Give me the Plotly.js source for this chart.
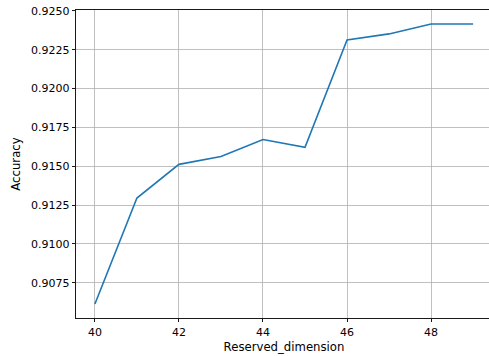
<!DOCTYPE html>
<html>
<head>
<meta charset="utf-8">
<script src="https://cdn.plot.ly/plotly-3.0.1.min.js"></script>
<style>
html,body{margin:0;padding:0;overflow:hidden;background:#fff;width:489px;height:356px;}
#chart{width:495px;height:356px;}
</style>
</head>
<body>
<div id="chart"></div>
<script>
const reservedDimension = [40, 41, 42, 43, 44, 45, 46, 47, 48, 49];
const accuracy = [0.90613, 0.91295, 0.91512, 0.91562, 0.91672, 0.91622, 0.92313, 0.92352, 0.92416, 0.92416];
const xTickVals = [40, 42, 44, 46, 48];
const yTickVals = [0.9075, 0.9100, 0.9125, 0.9150, 0.9175, 0.9200, 0.9225, 0.9250];

const trace = {
  x: reservedDimension,
  y: accuracy,
  type: 'scatter',
  mode: 'lines',
  line: {color: '#1f77b4', width: 1.6},
  hoverinfo: 'skip'
};

const axisCommon = {
  showline: true, linecolor: '#000', linewidth: 0.9, mirror: true,
  ticks: 'outside', ticklen: 3.5, tickwidth: 0.9, tickcolor: '#000',
  showgrid: true, gridcolor: '#b0b0b0', gridwidth: 0.8,
  zeroline: false,
  tickfont: {family: 'DejaVu Sans', size: 11, color: '#000'}
};

const layout = {
  width: 495, height: 356,
  margin: {l: 76, r: 3, t: 10, b: 38},
  paper_bgcolor: '#fff', plot_bgcolor: '#fff',
  showlegend: false,
  xaxis: Object.assign({}, axisCommon, {
    range: [39.55, 49.45],
    tickvals: xTickVals,
    ticktext: xTickVals.map(String),
    title: {text: 'Reserved_dimension', font: {family: 'DejaVu Sans', size: 11.7, color: '#000'}, standoff: 5}
  }),
  yaxis: Object.assign({}, axisCommon, {
    range: [0.905225, 0.92506],
    tickvals: yTickVals,
    ticktext: yTickVals.map(v => v.toFixed(4)),
    title: {text: 'Accuracy', font: {family: 'DejaVu Sans', size: 11.7, color: '#000'}, standoff: 7}
  })
};

Plotly.newPlot('chart', [trace], layout, {displayModeBar: false, staticPlot: true});
</script>
</body>
</html>
